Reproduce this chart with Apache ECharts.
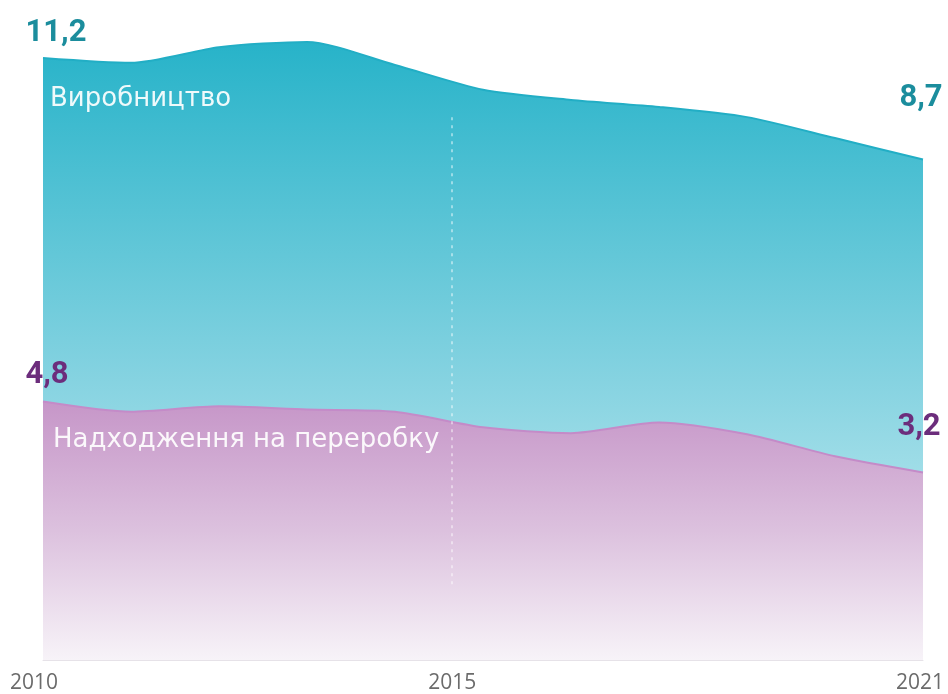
<!DOCTYPE html>
<html lang="uk">

<head>
  <meta charset="utf-8">
  <title>Виробництво та надходження на переробку</title>
  <style>
    * {
      margin: 0;
      padding: 0;
    }

    #chart-container {
      position: relative;
      width: 948px;
      height: 694px;
      overflow: hidden;
    }
  </style>
</head>

<body>
  <div id="chart-container"></div>
  <script src="https://cdn.jsdelivr.net/npm/echarts@6/dist/echarts.min.js"></script>
  <script>
    // values, one point per step between 2010 and 2021
    var production = [11.2, 11.11, 11.4, 11.5, 11.07, 10.61, 10.42, 10.29, 10.1, 9.71, 9.31];
    var processing = [4.81, 4.62, 4.72, 4.66, 4.62, 4.33, 4.22, 4.42, 4.2, 3.79, 3.49];
    var seriesNames = ['Виробництво', 'Надходження на переробку'];
    var startLabels = ['11,2', '4,8'];
    var endLabels = ['8,7', '3,2'];
    var tickValues = [0, 4.65, 10];
    var tickLabels = ['2010', '2015', '2021'];
    var markYear = 4.65;

    var dom = document.getElementById('chart-container');
    var myChart = echarts.init(dom, null, { renderer: 'canvas' });

    var font = 'Roboto, "Noto Sans", sans-serif';
    var wideFont = '"Open Sans", Roboto, sans-serif';
    var nameFont = '"DejaVu Sans", "Open Sans", sans-serif';
    var teal = '#1b8d9d';
    var purple = '#6c2d7c';

    function build(values, color, first, last, firstOff, lastOff) {
      return values.map(function (v, i) {
        var item = { value: [i, v] };
        if (i === 0 || i === values.length - 1) {
          item.label = {
            show: true,
            position: 'inside',
            formatter: i === 0 ? first : last,
            offset: i === 0 ? firstOff : lastOff,
            color: color,
            fontSize: 31,
            fontWeight: 'bold',
            fontFamily: font
          };
        }
        return item;
      });
    }

    var option = {
      backgroundColor: '#fff',
      animation: false,
      grid: { left: 43, right: 25, top: 15, bottom: 33 },
      xAxis: {
        type: 'value',
        min: 0,
        max: 10,
        splitLine: { show: false },
        axisTick: { show: false },
        axisLine: { show: true, lineStyle: { color: '#e6e2e8', width: 1 } },
        axisLabel: {
          customValues: tickValues,
          margin: 13,
          color: '#6b6b6b',
          fontSize: 21,
          fontFamily: wideFont,
          formatter: function (val) {
            var idx = tickValues.indexOf(val);
            if (idx === 0) return '{a|' + tickLabels[0] + '}';
            if (idx === tickLabels.length - 1) return '{b|' + tickLabels[idx] + '}';
            return idx >= 0 ? tickLabels[idx] : '';
          },
          rich: {
            a: { padding: [0, 18, 0, 0], fontSize: 21, color: '#6b6b6b', fontFamily: wideFont },
            b: { padding: [0, 6, 0, 0], fontSize: 21, color: '#6b6b6b', fontFamily: wideFont }
          }
        }
      },
      yAxis: {
        type: 'value',
        min: 0,
        max: 12,
        show: false
      },
      graphic: [
        {
          type: 'text',
          left: 50,
          top: 86,
          z: 100,
          style: {
            text: seriesNames[0],
            fill: 'rgba(255,255,255,0.92)',
            fontSize: 26,
            fontFamily: nameFont
          }
        },
        {
          type: 'text',
          left: 53,
          top: 427,
          z: 100,
          style: {
            text: seriesNames[1],
            fill: 'rgba(255,255,255,0.92)',
            fontSize: 26,
            fontFamily: nameFont
          }
        }
      ],
      series: [
        {
          name: seriesNames[0],
          type: 'line',
          smooth: 0.25,
          symbol: 'circle',
          symbolSize: 0,
          data: build(production, teal, startLabels[0], endLabels[0], [13, -25], [-2, -61]),
          lineStyle: { color: '#22aec5', width: 2 },
          itemStyle: { color: '#22aec5' },
          areaStyle: {
            opacity: 1,
            color: new echarts.graphic.LinearGradient(0, 0, 0, 1, [
              { offset: 0, color: '#27b3c9' },
              { offset: 0.55, color: '#86d3e1' },
              { offset: 0.75, color: '#a9e1ea' },
              { offset: 1, color: '#d0f0f5' }
            ])
          }
        },
        {
          name: seriesNames[1],
          type: 'line',
          smooth: 0.25,
          symbol: 'circle',
          symbolSize: 0,
          data: build(processing, purple, startLabels[1], endLabels[1], [4, -26], [-4, -45]),
          lineStyle: { color: '#c48bc8', width: 2 },
          itemStyle: { color: '#c48bc8' },
          areaStyle: {
            opacity: 1,
            color: new echarts.graphic.LinearGradient(0, 0, 0, 1, [
              { offset: 0, color: '#c696c8' },
              { offset: 0.5, color: '#dcc1de' },
              { offset: 1, color: '#f7f3f8' }
            ])
          },
          markLine: {
            silent: true,
            symbol: 'none',
            label: { show: false },
            lineStyle: { color: 'rgba(255,255,255,0.6)', width: 1.5, type: [3, 5] },
            data: [[{ coord: [markYear, 10.1] }, { coord: [markYear, 1.37] }]]
          }
        }
      ]
    };

    myChart.setOption(option);

    window.addEventListener('resize', myChart.resize);
  </script>
</body>

</html>
